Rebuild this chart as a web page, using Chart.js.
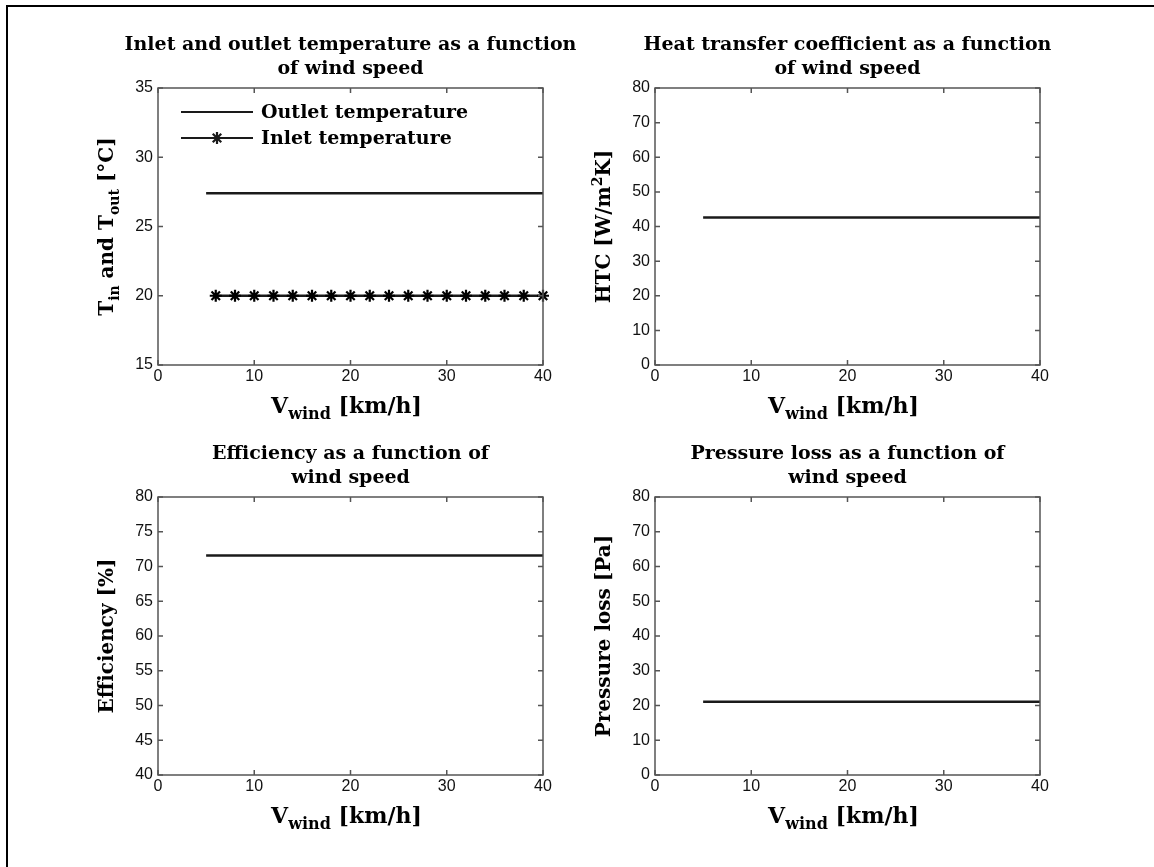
<!DOCTYPE html>
<html>
<head>
<meta charset="utf-8">
<title>Wind speed study</title>
<script src="https://cdn.jsdelivr.net/npm/chart.js@4.4.1/dist/chart.umd.min.js"></script>
<style>
  body { margin: 0; background: #fff; }
  #wrap { position: relative; width: 1154px; height: 867px; overflow: hidden; background: #fff; }
  #frame { position: absolute; left: 6px; top: 5px; width: 1300px; height: 1000px;
           border-left: 2px solid #000; border-top: 2px solid #000; }
  #wrap canvas { position: absolute; left: 0; top: 0; }
</style>
</head>
<body>
<div id="wrap">
  <div id="frame"></div>
  <canvas id="cTemp" width="1154" height="867"></canvas>
  <canvas id="cHtc" width="1154" height="867"></canvas>
  <canvas id="cEff" width="1154" height="867"></canvas>
  <canvas id="cPress" width="1154" height="867"></canvas>
</div>

<script>
/* =================== Data =================== */
// wind speed [km/h]
const xTicks = [0, 10, 20, 30, 40];

// outlet temperature: flat line from 5 to 40 km/h
const outletSpeed = [5, 40];
const outletTemp  = [27.4, 27.4];

// inlet temperature, star markers every 2 km/h
const inletSpeed = [6, 8, 10, 12, 14, 16, 18, 20, 22, 24, 26, 28, 30, 32, 34, 36, 38, 40];
const inletTemp  = [20, 20, 20, 20, 20, 20, 20, 20, 20, 20, 20, 20, 20, 20, 20, 20, 20, 20];

// heat transfer coefficient [W/m2K]
const htcSpeed = [5, 40];
const htcValue = [42.6, 42.6];

// efficiency [%]
const effSpeed = [5, 40];
const effValue = [71.6, 71.6];

// pressure loss [Pa]
const pressSpeed = [5, 40];
const pressValue = [21.1, 21.1];

// y tick ranges per panel
const tempTicks  = [15, 20, 25, 30, 35];
const htcTicks   = [0, 10, 20, 30, 40, 50, 60, 70, 80];
const effTicks   = [40, 45, 50, 55, 60, 65, 70, 75, 80];
const pressTicks = [0, 10, 20, 30, 40, 50, 60, 70, 80];

/* =================== Helpers =================== */
const W = 1154, H = 867;
const SERIF = "'DejaVu Serif', serif";
const SANS  = "'Liberation Sans', Arial, sans-serif";
const LINE_COL = "#1a1a1a";
const AXIS_COL = "#555";

const pts = (xs, ys) => xs.map((x, i) => ({ x: x, y: ys[i] }));

// draws text made of segments (normal / sub / sup), centred at cx, baseline y
function richText(ctx, segs, cx, y, size) {
  const small = Math.round(size * 0.72);
  let total = 0;
  segs.forEach(s => {
    ctx.font = "bold " + (s.sub || s.sup ? small : size) + "px " + SERIF;
    s.w = ctx.measureText(s.t).width;
    total += s.w;
  });
  let x = cx - total / 2;
  ctx.textAlign = "left";
  ctx.textBaseline = "alphabetic";
  segs.forEach(s => {
    ctx.font = "bold " + (s.sub || s.sup ? small : size) + "px " + SERIF;
    let dy = 0;
    if (s.sub) dy = size * 0.28;
    if (s.sup) dy = -size * 0.38;
    ctx.fillText(s.t, x, y + dy);
    x += s.w;
  });
}

// MATLAB-ish decorations: box, inward ticks, titles, axis labels, legend
const panelDeco = {
  id: "panelDeco",
  afterDraw(chart, args, o) {
    const ctx = chart.ctx;
    const a = chart.chartArea;
    const xs = chart.scales.x, ys = chart.scales.y;
    ctx.save();

    // box + ticks
    ctx.strokeStyle = AXIS_COL;
    ctx.lineWidth = 1.5;
    ctx.strokeRect(a.left, a.top, a.right - a.left, a.bottom - a.top);
    const tl = 5;
    ctx.beginPath();
    xs.ticks.forEach(t => {
      const px = xs.getPixelForValue(t.value);
      ctx.moveTo(px, a.bottom); ctx.lineTo(px, a.bottom - tl);
      ctx.moveTo(px, a.top);    ctx.lineTo(px, a.top + tl);
    });
    ys.ticks.forEach(t => {
      const py = ys.getPixelForValue(t.value);
      ctx.moveTo(a.left, py);  ctx.lineTo(a.left + tl, py);
      ctx.moveTo(a.right, py); ctx.lineTo(a.right - tl, py);
    });
    ctx.stroke();

    ctx.fillStyle = "#000";
    const cx = (a.left + a.right) / 2;

    // title, two lines
    ctx.font = "bold 19px " + SERIF;
    ctx.textAlign = "center";
    ctx.textBaseline = "alphabetic";
    o.title.forEach((line, i) => ctx.fillText(line, cx, a.top - 38 + i * 24));

    // x label
    richText(ctx, o.xLabel, cx - 4, a.bottom + 48, 22);

    // y label, rotated
    ctx.save();
    ctx.translate(a.left - 45, (a.top + a.bottom) / 2);
    ctx.rotate(-Math.PI / 2);
    richText(ctx, o.yLabel, 0, 0, 20);
    ctx.restore();

    // legend (only first panel)
    if (o.legend) {
      chart.data.datasets.forEach((ds, i) => {
        const y = a.top + 24 + i * 26;
        const x0 = a.left + 23, x1 = a.left + 95;
        ctx.strokeStyle = LINE_COL;
        ctx.lineWidth = 2.2;
        ctx.beginPath(); ctx.moveTo(x0, y); ctx.lineTo(x1, y); ctx.stroke();
        if (ds.pointRadius > 0) {
          Chart.helpers.drawPoint(ctx, {
            pointStyle: ds.pointStyle, radius: ds.pointRadius, borderWidth: ds.pointBorderWidth
          }, (x0 + x1) / 2, y);
        }
        ctx.fillStyle = "#000";
        ctx.font = "bold 19px " + SERIF;
        ctx.textAlign = "left";
        ctx.textBaseline = "middle";
        ctx.fillText(ds.label, x1 + 8, y + 1);
      });
    }
    ctx.restore();
  }
};

function lineSet(label, xs, ys, star) {
  return {
    label: label,
    data: pts(xs, ys),
    showLine: true,
    borderColor: LINE_COL,
    backgroundColor: "#000",
    borderWidth: 2.5,
    pointStyle: star ? "star" : "circle",
    pointRadius: star ? 6 : 0,
    pointBorderWidth: star ? 2.2 : 0,
    pointBorderColor: "#000",
    clip: false
  };
}

function makePanel(id, area, yTicks, datasets, deco) {
  const yMin = yTicks[0], yMax = yTicks[yTicks.length - 1];
  return new Chart(document.getElementById(id), {
    type: "scatter",
    data: { datasets: datasets },
    options: {
      responsive: false,
      animation: false,
      events: [],
      layout: {
        padding: { left: area.l - 40, top: area.t, right: W - area.r, bottom: H - area.b - 25 }
      },
      plugins: { legend: { display: false }, tooltip: { enabled: false }, panelDeco: deco },
      scales: {
        x: {
          type: "linear", min: xTicks[0], max: xTicks[xTicks.length - 1],
          afterBuildTicks: s => { s.ticks = xTicks.map(v => ({ value: v })); },
          afterFit: s => { s.height = 25; },
          grid: { display: false, drawTicks: false },
          border: { display: false },
          ticks: { color: "#111", font: { family: SANS, size: 16 }, padding: 2, maxRotation: 0 }
        },
        y: {
          type: "linear", min: yMin, max: yMax,
          afterBuildTicks: s => { s.ticks = yTicks.map(v => ({ value: v })); },
          afterFit: s => { s.width = 40; },
          grid: { display: false, drawTicks: false },
          border: { display: false },
          ticks: { color: "#111", font: { family: SANS, size: 16 }, padding: 5 }
        }
      }
    },
    plugins: [panelDeco]
  });
}

/* =================== Panels =================== */
makePanel("cTemp", { l: 158, t: 88, r: 543, b: 365 }, tempTicks, [
  lineSet("Outlet temperature", outletSpeed, outletTemp, false),
  lineSet("Inlet temperature", inletSpeed, inletTemp, true)
], {
  title: ["Inlet and outlet temperature as a function", "of wind speed"],
  xLabel: [{ t: "V" }, { t: "wind", sub: true }, { t: " [km/h]" }],
  yLabel: [{ t: "T" }, { t: "in", sub: true }, { t: " and T" }, { t: "out", sub: true }, { t: " [\u00B0C]" }],
  legend: true
});

makePanel("cHtc", { l: 655, t: 88, r: 1040, b: 365 }, htcTicks, [
  lineSet("HTC", htcSpeed, htcValue, false)
], {
  title: ["Heat transfer coefficient as a function", "of wind speed"],
  xLabel: [{ t: "V" }, { t: "wind", sub: true }, { t: " [km/h]" }],
  yLabel: [{ t: "HTC [W/m" }, { t: "2", sup: true }, { t: "K]" }]
});

makePanel("cEff", { l: 158, t: 497, r: 543, b: 775 }, effTicks, [
  lineSet("Efficiency", effSpeed, effValue, false)
], {
  title: ["Efficiency as a function of", "wind speed"],
  xLabel: [{ t: "V" }, { t: "wind", sub: true }, { t: " [km/h]" }],
  yLabel: [{ t: "Efficiency [%]" }]
});

makePanel("cPress", { l: 655, t: 497, r: 1040, b: 775 }, pressTicks, [
  lineSet("Pressure loss", pressSpeed, pressValue, false)
], {
  title: ["Pressure loss as a function of", "wind speed"],
  xLabel: [{ t: "V" }, { t: "wind", sub: true }, { t: " [km/h]" }],
  yLabel: [{ t: "Pressure loss [Pa]" }]
});
</script>
</body>
</html>
